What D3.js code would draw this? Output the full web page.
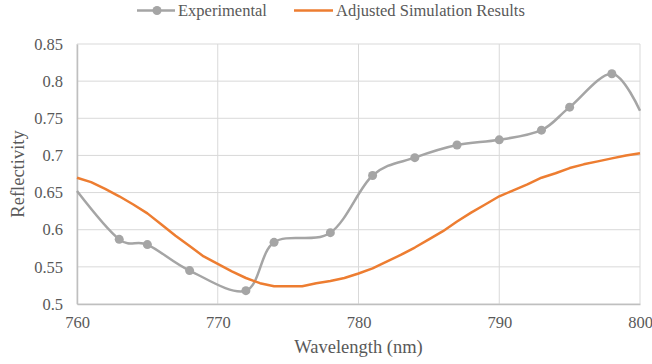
<!DOCTYPE html>
<html>
<head>
<meta charset="utf-8">
<script src="https://cdn.jsdelivr.net/npm/d3@7"></script>
<style>
  body { margin: 0; background: #fff; }
</style>
</head>
<body>
<div id="chart"></div>
<script>
// experimental measurements (markers on interior points only)
var expWavelength = [760, 763, 765, 768, 772, 774, 778, 781, 784, 787, 790, 793, 795, 798, 800];
var expReflect = [0.652, 0.587, 0.580, 0.545, 0.518, 0.583, 0.596, 0.673, 0.697, 0.714, 0.721, 0.734, 0.765, 0.810, 0.760];

// adjusted simulation
var simWavelength = [760, 761, 762, 763, 764, 765, 766, 767, 768, 769, 770, 771, 772, 773, 774, 775, 776, 777, 778, 779, 780,
    781, 782, 783, 784, 785, 786, 787, 788, 789, 790, 791, 792, 793, 794, 795, 796, 797, 798, 799, 800];
var simReflect = [0.670, 0.664, 0.655, 0.645, 0.634, 0.622, 0.607, 0.592, 0.578, 0.564, 0.554, 0.544, 0.535, 0.528, 0.524, 0.524, 0.524, 0.528, 0.531, 0.535, 0.541,
    0.548, 0.557, 0.566, 0.576, 0.587, 0.598, 0.611, 0.623, 0.634, 0.645, 0.653, 0.661, 0.670, 0.676, 0.683, 0.688, 0.692, 0.696, 0.700, 0.703];

var xTicks = [760, 770, 780, 790, 800];
var yTicks = [0.5, 0.55, 0.6, 0.65, 0.7, 0.75, 0.8, 0.85];

const svgWidth = 652;
const svgHeight = 364;
const serif = "'Liberation Serif'";
const textColor = '#595959';

var margins = { top: 44, bottom: 60, right: 12, left: 77 };
var width = svgWidth - margins.left - margins.right;
var height = svgHeight - margins.top - margins.bottom;

var svg = d3.select('#chart')
    .append('svg')
    .attr('width', svgWidth)
    .attr('height', svgHeight);

var chartGroup = svg.append('g')
    .attr('transform', `translate(${margins.left}, ${margins.top})`);

var xScale = d3.scaleLinear().domain([760, 800]).range([0, width]);
var yScale = d3.scaleLinear().domain([0.5, 0.85]).range([height, 0]);

// gridlines
chartGroup.append('g')
    .selectAll('line')
    .data(yTicks)
    .enter()
    .append('line')
    .attr('x1', 0).attr('x2', width)
    .attr('y1', d => yScale(d)).attr('y2', d => yScale(d))
    .attr('stroke', '#d9d9d9').attr('stroke-width', 1);

chartGroup.append('g')
    .selectAll('line')
    .data(xTicks)
    .enter()
    .append('line')
    .attr('y1', 0).attr('y2', height)
    .attr('x1', d => xScale(d)).attr('x2', d => xScale(d))
    .attr('stroke', '#d9d9d9').attr('stroke-width', 1);

// axes
var bottomAxis = d3.axisBottom(xScale).tickValues(xTicks).tickSize(0).tickPadding(12);
var leftAxis = d3.axisLeft(yScale).tickValues(yTicks).tickSize(0).tickPadding(14)
    .tickFormat(d => String(+d.toFixed(2)));

var xAxisG = chartGroup.append('g')
    .attr('transform', `translate(0, ${height})`)
    .call(bottomAxis);
var yAxisG = chartGroup.append('g').call(leftAxis);

[xAxisG, yAxisG].forEach(function(g) {
    g.attr('font-family', serif).attr('font-size', 16.5);
    g.select('.domain').attr('stroke', '#bfbfbf').attr('stroke-width', 1.5);
    g.selectAll('text')
        .style('font-family', serif)
        .style('font-size', '16.5px')
        .attr('fill', textColor);
});

// series
var simData = simWavelength.map((w, i) => ({ x: w, y: simReflect[i] }));
var expData = expWavelength.map((w, i) => ({ x: w, y: expReflect[i] }));

var simLine = d3.line()
    .x(d => xScale(d.x))
    .y(d => yScale(d.y));

var expLine = d3.line()
    .x(d => xScale(d.x))
    .y(d => yScale(d.y))
    .curve(d3.curveCardinal.tension(0));

chartGroup.append('path')
    .datum(expData)
    .attr('d', expLine)
    .attr('fill', 'none')
    .attr('stroke', '#a5a5a5')
    .attr('stroke-width', 2.5)
    .attr('stroke-linejoin', 'round');

chartGroup.selectAll('.marker')
    .data(expData.filter(d => d.x > 760 && d.x < 800))
    .enter()
    .append('circle')
    .attr('class', 'marker')
    .attr('cx', d => xScale(d.x))
    .attr('cy', d => yScale(d.y))
    .attr('r', 4.5)
    .attr('fill', '#a5a5a5');

chartGroup.append('path')
    .datum(simData)
    .attr('d', simLine)
    .attr('fill', 'none')
    .attr('stroke', '#ed7d31')
    .attr('stroke-width', 2.5)
    .attr('stroke-linejoin', 'round');

// axis titles
svg.append('text')
    .attr('x', margins.left + width / 2)
    .attr('y', 353)
    .attr('text-anchor', 'middle')
    .attr('fill', textColor)
    .style('font-family', serif)
    .style('font-size', '18.5px')
    .text('Wavelength (nm)');

svg.append('text')
    .attr('transform', 'translate(24, 174) rotate(-90)')
    .attr('text-anchor', 'middle')
    .attr('fill', textColor)
    .style('font-family', serif)
    .style('font-size', '18.5px')
    .text('Reflectivity');

// legend
var legend = svg.append('g');
legend.append('line')
    .attr('x1', 137).attr('x2', 175).attr('y1', 10.5).attr('y2', 10.5)
    .attr('stroke', '#a5a5a5').attr('stroke-width', 2.5);
legend.append('circle')
    .attr('cx', 157).attr('cy', 10.5).attr('r', 4.5).attr('fill', '#a5a5a5');
legend.append('text')
    .attr('x', 178).attr('y', 15.5)
    .attr('fill', textColor)
    .style('font-family', serif)
    .style('font-size', '16.5px')
    .text('Experimental');
legend.append('line')
    .attr('x1', 294).attr('x2', 333).attr('y1', 10.5).attr('y2', 10.5)
    .attr('stroke', '#ed7d31').attr('stroke-width', 2.5);
legend.append('text')
    .attr('x', 336).attr('y', 15.5)
    .attr('fill', textColor)
    .style('font-family', serif)
    .style('font-size', '16.5px')
    .text('Adjusted Simulation Results');
</script>
</body>
</html>
